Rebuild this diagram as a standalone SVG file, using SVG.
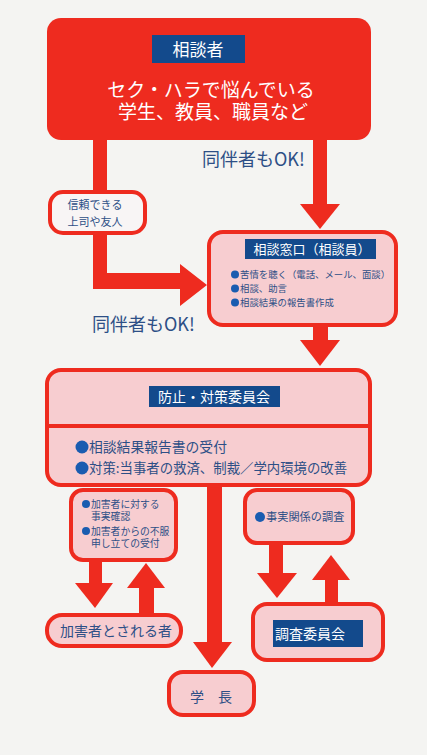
<svg xmlns="http://www.w3.org/2000/svg" width="427" height="755" viewBox="0 0 427 755">
<style>
text{font-family:"Noto Sans CJK JP","Noto Sans",sans-serif}
.red{fill:#ee2b1f}
.box{fill:#f7cdd0;stroke:#ee2b1f;stroke-width:4}
.wbox{fill:#f8f5f5;stroke:#ee2b1f;stroke-width:4}
.tag{fill:#134a8c}
.wt{fill:#ffffff}
.bt{fill:#2d4f86}
.dot{fill:#1a5cb0}
</style>
<rect width="427" height="755" fill="#f4f4f2"/>
<g id="connectors" class="red">
<rect x="93" y="138" width="14" height="54"/>
<path d="M93,233 V289 H180 V306 L207,285 L180,264 V273 H107 V233 Z"/>
<rect x="313" y="138" width="14" height="68"/>
<path d="M300,204 H340 L320,229 Z"/>
<rect x="313" y="325" width="15" height="17"/>
<path d="M300,340 H340 L320,366 Z"/>
<rect x="207" y="485" width="15" height="159"/>
<path d="M193,642 H232 L212,668 Z"/>
<rect x="89" y="560" width="13" height="25"/>
<path d="M75,583 H113 L95,608 Z"/>
<path d="M127,588 H165 L146,563 Z"/>
<rect x="139" y="586" width="15" height="28"/>
<rect x="269" y="544" width="14" height="31"/>
<path d="M257,573 H297 L277,598 Z"/>
<path d="M312,580 H350 L331,555 Z"/>
<rect x="325" y="578" width="13" height="27"/>
</g>
<g id="soudansha">
<rect x="47" y="18" width="324" height="122" rx="14" class="red"/>
<rect x="152" y="35" width="93" height="28" class="tag"/>
<text x="198" y="56" font-size="17" text-anchor="middle" class="wt">相談者</text>
<text x="211" y="97" font-size="19" text-anchor="middle" class="wt">セク・ハラで悩んでいる</text>
<text x="213" y="119" font-size="19" text-anchor="middle" class="wt">学生、教員、職員など</text>
</g>
<g id="ok1">
<text x="202" y="166" font-size="18" class="bt">同伴者もOK!</text>
</g>
<g id="shinrai">
<rect x="50" y="192" width="95" height="41" rx="13" class="wbox"/>
<text x="95" y="209" font-size="11" text-anchor="middle" class="bt">信頼できる</text>
<text x="95" y="226" font-size="11" text-anchor="middle" class="bt">上司や友人</text>
</g>
<g id="ok2">
<text x="92" y="331" font-size="18" class="bt">同伴者もOK!</text>
</g>
<g id="madoguchi">
<rect x="209" y="232" width="187" height="93" rx="14" class="box"/>
<rect x="245" y="239" width="131" height="20" class="tag"/>
<text x="312" y="254" font-size="13" text-anchor="middle" class="wt">相談窓口（相談員）</text>
<circle cx="235" cy="274.5" r="4" class="dot"/>
<text x="240" y="278" font-size="9.4" class="bt">苦情を聴く（電話、メール、面談）</text>
<circle cx="235" cy="288.5" r="4" class="dot"/>
<text x="240" y="292" font-size="9.4" class="bt">相談、助言</text>
<circle cx="235" cy="302.5" r="4" class="dot"/>
<text x="240" y="306" font-size="9.4" class="bt">相談結果の報告書作成</text>
</g>
<g id="iinkai">
<rect x="47" y="370" width="323" height="115" rx="14" class="box"/>
<line x1="47" y1="426" x2="370" y2="426" stroke="#ee2b1f" stroke-width="4"/>
<rect x="149" y="386" width="131" height="21" class="tag"/>
<text x="214" y="402" font-size="14" text-anchor="middle" class="wt">防止・対策委員会</text>
<circle cx="82" cy="447" r="6.5" class="dot"/>
<text x="89" y="452" font-size="13.8" class="bt">相談結果報告書の受付</text>
<circle cx="82" cy="468" r="6.5" class="dot"/>
<text x="89" y="473" font-size="13.4" class="bt">対策:当事者の救済、制裁／学内環境の改善</text>
</g>
<g id="kagai-kakunin">
<rect x="71" y="490" width="105" height="70" rx="12" class="box"/>
<circle cx="86" cy="504" r="4" class="dot"/>
<text x="91" y="508" font-size="9.8" class="bt">加害者に対する</text>
<text x="91" y="520" font-size="9.8" class="bt">事実確認</text>
<circle cx="86" cy="531" r="4" class="dot"/>
<text x="91" y="535" font-size="9.8" class="bt">加害者からの不服</text>
<text x="91" y="547" font-size="9.8" class="bt">申し立ての受付</text>
</g>
<g id="chousa">
<rect x="245" y="490" width="108" height="53" rx="12" class="box"/>
<circle cx="260" cy="517" r="5" class="dot"/>
<text x="266" y="521" font-size="11.2" class="bt">事実関係の調査</text>
</g>
<g id="kagaisha">
<rect x="47" y="615" width="134" height="31" rx="15" class="box"/>
<text x="116" y="636" font-size="14" text-anchor="middle" class="bt">加害者とされる者</text>
</g>
<g id="chousa-iinkai">
<rect x="253" y="604" width="130" height="56" rx="14" class="box"/>
<rect x="273" y="620" width="90" height="27" class="tag"/>
<text x="275" y="639" font-size="14" class="wt">調査委員会</text>
</g>
<g id="gakuchou">
<rect x="169" y="672" width="85" height="43" rx="14" class="box"/>
<text x="211" y="702" font-size="14" text-anchor="middle" class="bt">学　長</text>
</g>
</svg>
